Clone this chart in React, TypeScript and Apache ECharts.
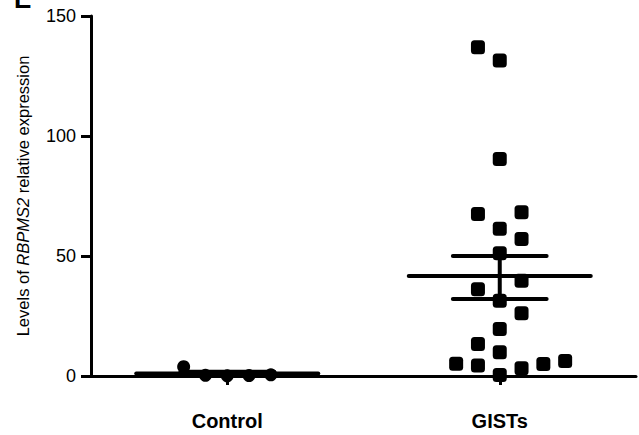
import React, { useEffect, useRef } from "react";
import * as echarts from "echarts";

// ---- data ----
const categories = ["Control", "GISTs"];
const yMin = 0;
const yMax = 150;
const yInterval = 50;

const controlValues = [3.9, 0.3, 0.1, 0.2, 0.5];
const controlOffsets = [-0.16, -0.08, 0, 0.08, 0.16];

const gistValues = [137, 131.5, 90.4, 67.5, 68.2, 61.4, 57.1, 51.1, 39.7, 36.1, 31.4, 26.1, 19.6, 13.3, 9.9, 5.1, 4.4, 3.2, 5.0, 6.25, 0.4];
const gistOffsets = [-0.08, 0, 0, -0.08, 0.08, 0, 0.08, 0, 0.08, -0.08, 0, 0.08, 0, -0.08, 0, -0.16, -0.08, 0.08, 0.16, 0.24, 0];

const groupMeans = [1.0, 41.7];
const groupSemHigh = [1.8, 50.0];
const groupSemLow = [0.3, 32.1];

const yAxisTitleA = "Levels of ";
const yAxisTitleGene = "RBPMS2";
const yAxisTitleB = " relative expression";
const panelLetter = "E";

const MEAN_HALF = 0.334;
const SEM_HALF = 0.172;
const FONT = "'Liberation Sans', Arial, Helvetica, sans-serif";

function seg(data: number[][]) {
  return {
    type: "line",
    xAxisIndex: 1,
    yAxisIndex: 0,
    data,
    symbol: "none",
    silent: true,
    lineStyle: { color: "#000", width: 4, cap: "round" },
    z: 3,
  };
}

export default function App() {
  const ref = useRef<HTMLDivElement>(null);

  useEffect(() => {
    if (!ref.current) return;
    const chart = echarts.init(ref.current, null, { renderer: "svg" });

    const lineSeries: any[] = [];
    groupMeans.forEach((m, i) => {
      lineSeries.push(seg([[i - MEAN_HALF, m], [i + MEAN_HALF, m]]));
      lineSeries.push(seg([[i - SEM_HALF, groupSemHigh[i]], [i + SEM_HALF, groupSemHigh[i]]]));
      lineSeries.push(seg([[i - SEM_HALF, groupSemLow[i]], [i + SEM_HALF, groupSemLow[i]]]));
      lineSeries.push(seg([[i, groupSemLow[i]], [i, groupSemHigh[i]]]));
    });

    chart.setOption({
      animation: false,
      backgroundColor: "#fff",
      grid: { left: 91, right: 3, top: 16, bottom: 59, containLabel: false },
      xAxis: [
        {
          type: "category",
          data: categories,
          boundaryGap: true,
          axisLine: { show: true, onZero: false, lineStyle: { color: "#000", width: 3 } },
          axisTick: { show: true, alignWithLabel: true, length: 9, lineStyle: { color: "#000", width: 3 } },
          axisLabel: { color: "#000", fontFamily: FONT, fontSize: 20, fontWeight: "bold", margin: 35 },
          splitLine: { show: false },
        },
        {
          type: "value",
          min: -0.5,
          max: 1.5,
          show: false,
        },
      ],
      yAxis: {
        type: "value",
        min: yMin,
        max: yMax,
        interval: yInterval,
        name: `{n|${yAxisTitleA}}{i|${yAxisTitleGene}}{n|${yAxisTitleB}}`,
        nameLocation: "middle",
        nameRotate: 90,
        nameGap: 60,
        nameTextStyle: {
          rich: {
            n: { fontFamily: FONT, fontSize: 16.5, color: "#000" },
            i: { fontFamily: FONT, fontSize: 16.5, color: "#000", fontStyle: "italic" },
          },
        },
        axisLine: { show: true, onZero: false, lineStyle: { color: "#000", width: 3 } },
        axisTick: { show: true, length: 10, lineStyle: { color: "#000", width: 3 } },
        axisLabel: { color: "#000", fontFamily: FONT, fontSize: 18, margin: 15 },
        splitLine: { show: false },
      },
      graphic: [
        {
          type: "text",
          left: 14,
          top: -14,
          style: { text: panelLetter, font: `bold 26px ${FONT}`, fill: "#000" },
        },
      ],
      series: [
        ...lineSeries,
        {
          type: "scatter",
          xAxisIndex: 1,
          yAxisIndex: 0,
          symbol: "circle",
          symbolSize: 13,
          itemStyle: { color: "#000", opacity: 1 },
          data: controlValues.map((v, k) => [0 + controlOffsets[k], v]),
          z: 4,
        },
        {
          type: "scatter",
          xAxisIndex: 1,
          yAxisIndex: 0,
          symbol: "roundRect",
          symbolSize: 14,
          itemStyle: { color: "#000", opacity: 1 },
          data: gistValues.map((v, k) => [1 + gistOffsets[k], v]),
          z: 4,
        },
      ],
    });

    return () => chart.dispose();
  }, []);

  return (
    <div
      ref={ref}
      style={{ position: "fixed", left: 0, top: 0, width: 639, height: 435, background: "#fff" }}
    />
  );
}
